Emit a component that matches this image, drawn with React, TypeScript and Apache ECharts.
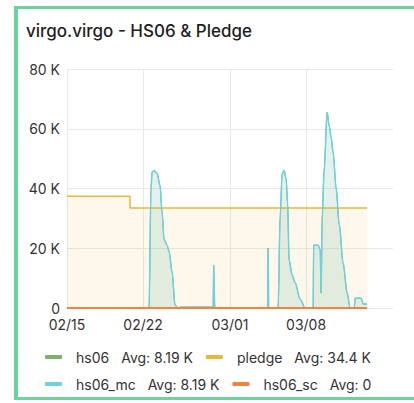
import React, { useEffect, useRef } from "react";
import * as echarts from "echarts";

// x positions are days since 02/15 (2024, leap year)
const xTickDays = [0, 7, 15, 22];
const xTickLabels = ["02/15", "02/22", "03/01", "03/08"];
const xMax = 30;

const mcDays = [
  0, 7.55, 7.73, 7.83, 8.01, 8.29, 8.56, 8.75, 8.93, 9.21, 9.39, 9.67, 9.94, 10.22,
  10.5, 13.45, 13.5, 13.55, 13.6, 15.29, 18.46, 18.51, 18.56, 19.43, 19.61, 19.8,
  19.98, 20.17, 20.3, 20.44, 20.72, 20.99, 21.45, 21.92, 22.65, 22.7, 23.11, 23.3,
  23.39, 23.48, 23.66, 23.94, 24.13, 24.31, 24.49, 24.77, 25.05, 25.41, 25.78,
  26.06, 26.43, 26.52, 27.07, 27.26, 27.62,
];
const mcValues = [
  0, 0, 40, 45.5, 46, 45, 41, 32, 23, 21, 19, 12, 1, 0,
  0.3, 0.3, 14.3, 14.3, 0.2, 0, 0, 20, 0, 0, 30, 45,
  46, 43, 35, 16, 11, 8.5, 3, 0, 0, 21, 21, 19.5,
  5, 30, 46, 65.5, 61, 57, 52, 40, 28, 15, 5,
  0, 0, 3.3, 3.3, 1.3, 1.3,
];
const hs06Values = mcValues;

const pledgeDays = [0, 5.8, 5.8, 27.62];
const pledgeValues = [37.4, 37.4, 33.5, 33.5];

const scDays = [0, 27.62];
const scValues = [0, 0];

const seriesNames = ["hs06", "pledge", "hs06_mc", "hs06_sc"];
const avgLabels = ["Avg: 8.19 K", "Avg: 34.4 K", "Avg: 8.19 K", "Avg: 0"];
const colors = ["#7EB26D", "#EAB839", "#6ED0E0", "#EF843C"];

const zip = (xs: number[], ys: number[]) => xs.map((x, i) => [x, ys[i]]);

export default function App() {
  const ref = useRef<HTMLDivElement>(null);
  useEffect(() => {
    if (!ref.current) return;
    const chart = echarts.init(ref.current, undefined, { renderer: "svg" });
    const font = "Inter, 'Noto Sans', sans-serif";
    chart.setOption({
      animation: false,
      textStyle: { fontFamily: font },
      title: {
        text: "virgo.virgo - HS06 & Pledge",
        left: 21,
        top: 17,
        textStyle: { fontFamily: font, fontSize: 17, fontWeight: 500, color: "#1e1e1e" },
      },
      grid: { left: 67, right: 21, top: 69, bottom: 95 },
      xAxis: {
        type: "value",
        min: 0,
        max: xMax,
        axisLine: { show: false },
        axisTick: { show: false, customValues: xTickDays },
        axisLabel: {
          customValues: xTickDays,
          formatter: (v: number) => {
            const i = xTickDays.indexOf(v);
            return i >= 0 ? xTickLabels[i] : "";
          },
          fontSize: 14,
          color: "#333",
          margin: 9,
          fontFamily: font,
        },
        splitLine: { show: true, lineStyle: { color: "#e8e8e8", width: 1 } },
      },
      yAxis: {
        type: "value",
        min: 0,
        max: 80,
        interval: 20,
        axisLine: { show: false },
        axisTick: { show: false },
        axisLabel: {
          formatter: (v: number) => (v === 0 ? "0" : `${v} K`),
          fontSize: 14,
          color: "#333",
          margin: 7,
          fontFamily: font,
        },
        splitLine: { show: true, lineStyle: { color: "#e8e8e8", width: 1 } },
      },
      legend: {
        data: seriesNames,
        left: 40,
        top: 345,
        width: 340,
        orient: "horizontal",
        itemWidth: 17,
        itemHeight: 4,
        itemGap: 13,
        icon: "roundRect",
        formatter: (name: string) => {
          const i = seriesNames.indexOf(name);
          return `{n|${name}}{a|${avgLabels[i]}}`;
        },
        textStyle: {
          fontFamily: font,
          fontSize: 14,
          color: "#333",
          rich: {
            n: { fontFamily: font, fontSize: 14, color: "#333", padding: [0, 0, 0, 9], lineHeight: 13 },
            a: { fontFamily: font, fontSize: 14, color: "#333", padding: [0, 0, 0, 12], lineHeight: 13 },
          },
        },
      },
      series: [
        {
          name: "pledge",
          type: "line",
          data: zip(pledgeDays, pledgeValues),
          showSymbol: false,
          color: colors[1],
          lineStyle: { width: 1.5, color: colors[1] },
          areaStyle: { color: colors[1], opacity: 0.1 },
          z: 2,
        },
        {
          name: "hs06",
          type: "line",
          data: zip(mcDays, hs06Values),
          showSymbol: false,
          smooth: 0.3,
          smoothMonotone: "x",
          color: colors[0],
          lineStyle: { width: 1, color: colors[0] },
          areaStyle: { color: colors[0], opacity: 0.1 },
          z: 3,
        },
        {
          name: "hs06_mc",
          type: "line",
          data: zip(mcDays, mcValues),
          showSymbol: false,
          smooth: 0.3,
          smoothMonotone: "x",
          color: colors[2],
          lineStyle: { width: 1.5, color: colors[2] },
          areaStyle: { color: colors[2], opacity: 0.1 },
          z: 4,
        },
        {
          name: "hs06_sc",
          type: "line",
          data: zip(scDays, scValues),
          showSymbol: false,
          color: colors[3],
          lineStyle: { width: 2, color: colors[3] },
          z: 5,
        },
      ],
    });
    return () => chart.dispose();
  }, []);

  return (
    <div
      style={{
        position: "fixed",
        left: 0,
        top: 0,
        width: 414,
        height: 403,
        overflow: "hidden",
        background: "#fff",
      }}
    >
      <div
        style={{
          position: "absolute",
          left: 14,
          top: 6,
          width: 500,
          height: 388,
          borderTop: "3px solid #6CD39A",
          borderLeft: "4px solid #6CD39A",
          borderBottom: "3px solid #6CD39A",
        }}
      />
      <div ref={ref} style={{ position: "absolute", left: 0, top: 0, width: 414, height: 403 }} />
    </div>
  );
}
